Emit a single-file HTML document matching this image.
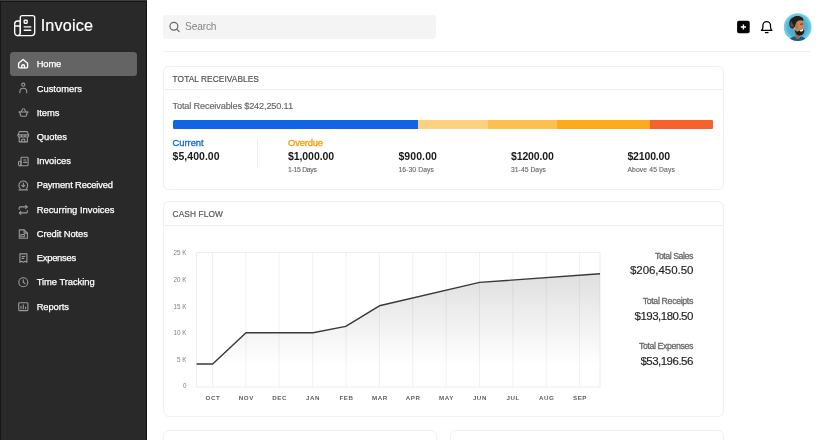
<!DOCTYPE html>
<html lang="en">
<head>
<meta charset="utf-8">
<title>Invoice</title>
<style>
*{box-sizing:border-box;margin:0;padding:0}
h1,h2,p,a{font-weight:400;text-decoration:none}
html,body{width:825px;height:440px;overflow:hidden;background:#fff}
body{font-family:"Liberation Sans",sans-serif;position:relative}
.t{position:absolute;line-height:1;white-space:nowrap}
.abs{position:absolute}
aside{position:absolute;left:0;top:0;width:147px;height:440px;background:#292929;box-shadow:inset 1px 0 0 rgba(0,0,0,.45),inset -1px 0 0 rgba(0,0,0,.55)}
.active{position:absolute;left:9.6px;top:52px;width:127.6px;height:24px;background:#646464;border-radius:3.5px}
nav svg,aside svg{position:absolute;overflow:visible}
.card{position:absolute;background:#fff;border:1px solid #f1f1f1;border-radius:6px;box-shadow:0 0 1px rgba(0,0,0,.03)}
.hr{position:absolute;background:#efefef;height:1px}
.search{position:absolute;left:163px;top:15px;width:272.7px;height:23.6px;background:#f4f4f4;border-radius:3.5px}
.seg{position:absolute;top:120px;height:8.6px}
</style>
</head>
<body>

<aside>
<div class="abs" style="left:0;top:0;width:147px;height:1px;background:#3c3c3c"></div><div class="abs" style="left:0;top:1px;width:147px;height:1px;background:#161616"></div>
<svg style="left:13px;top:14px" width="24" height="24" viewBox="13 14 24 24" fill="none" stroke="#fff" stroke-width="1.35" stroke-linecap="round" stroke-linejoin="round">
<path d="M20.3 32.5V17.6a2 2 0 0 1 2-2h10.4a2 2 0 0 1 2 2v15a3 3 0 0 1-3 3H17.5"/>
<path d="M20.3 21h-2.6a3 3 0 0 0-3 3v8.8a2.8 2.8 0 0 0 5.6 0z"/>
<path d="M14.9 26h5.2"/>
<rect x="24.2" y="20.2" width="3" height="3" rx=".6"/>
<path d="M24.2 26.9h6.6M24.2 30.2h6.6"/>
</svg>
<h1 class="t" style="left:40.70px;top:17px;font-size:16.2px;color:#fff;letter-spacing:0.153px;-webkit-text-stroke:0.2px #fff;">Invoice</h1>
<nav>
<div class="active"></div>
<svg style="left:14px;top:50px" width="18" height="28" viewBox="14 50 18 28" fill="none" stroke="#fff" stroke-width="1.35" stroke-linecap="round" stroke-linejoin="round"><path d="M18.600 63.300L23.100 59.500l4.500 3.800v3.400a1.200 1.200 0 0 1-1.200 1.200h-6.600a1.200 1.200 0 0 1-1.200-1.200z"/><path d="M21.700 67.800v-1.700a1.400 1.400 0 0 1 2.800 0v1.700"/></svg>
<a class="t" style="left:36.70px;top:59px;font-size:9.4px;color:#fff;letter-spacing:-0.119px;-webkit-text-stroke:0.25px #fff;">Home</a>
<svg style="left:14px;top:74px" width="18" height="28" viewBox="14 74 18 28" fill="none" stroke="#9a9a9a" stroke-width="1.1" stroke-linecap="round" stroke-linejoin="round"><circle cx="23.300" cy="84.700" r="1.600"/><path d="M19.900 92.800v-1.100a3.400 3.400 0 0 1 6.800 0v1.100"/></svg>
<a class="t" style="left:36.70px;top:84px;font-size:9.4px;color:#fff;-webkit-text-stroke:0.25px #fff;">Customers</a>
<svg style="left:14px;top:98px" width="18" height="28" viewBox="14 98 18 28" fill="none" stroke="#9a9a9a" stroke-width="1.1" stroke-linecap="round" stroke-linejoin="round"><path d="M18.800 112h9.400"/><path d="M19.700 112l.9 3.500a1 1 0 0 0 1 .7h3.800a1 1 0 0 0 1-.7l.9-3.500"/><path d="M21 111.800l1.900-3M26 111.800l-1.900-3"/></svg>
<a class="t" style="left:36.70px;top:108px;font-size:9.4px;color:#fff;letter-spacing:-0.016px;-webkit-text-stroke:0.25px #fff;">Items</a>
<svg style="left:14px;top:122px" width="18" height="28" viewBox="14 122 18 28" fill="none" stroke="#9a9a9a" stroke-width="1.1" stroke-linecap="round" stroke-linejoin="round"><path d="M19.400 131.600h7.800l1.400 3.300H18z"/><path d="M18 134.900v.5a1.700 1.700 0 0 0 3.500 0 1.700 1.700 0 0 0 3.500 0 1.700 1.700 0 0 0 3.600 0v-.5"/><path d="M19.200 137.400v4.500h8.200v-4.500"/><path d="M21.800 141.900v-2.700h3v2.700"/></svg>
<a class="t" style="left:36.70px;top:132px;font-size:9.4px;color:#fff;letter-spacing:0.016px;-webkit-text-stroke:0.25px #fff;">Quotes</a>
<svg style="left:14px;top:146px" width="18" height="28" viewBox="14 146 18 28" fill="none" stroke="#9a9a9a" stroke-width="1.1" stroke-linecap="round" stroke-linejoin="round"><path d="M21 164.700v-6.600a.9.9 0 0 1 .9-.9h5.300a.9.9 0 0 1 .9.900v6.600a1.100 1.100 0 0 1-1.100 1.100h-7"/><path d="M21 161.300h-1.300a1.200 1.200 0 0 0-1.200 1.200v2.100a1.250 1.250 0 0 0 2.500 0z"/><path d="M23.700 160h2.300M23.700 162.400h3"/></svg>
<a class="t" style="left:36.70px;top:156px;font-size:9.4px;color:#fff;letter-spacing:-0.023px;-webkit-text-stroke:0.25px #fff;">Invoices</a>
<svg style="left:14px;top:171px" width="18" height="28" viewBox="14 171 18 28" fill="none" stroke="#9a9a9a" stroke-width="1.1" stroke-linecap="round" stroke-linejoin="round"><path d="M20.300 188.600a4.400 4.400 0 1 1 6 0"/><path d="M23.300 183v3.600M21.700 185.300l1.600 1.500 1.600-1.500"/><path d="M19 189.900h8.600"/></svg>
<a class="t" style="left:36.70px;top:180px;font-size:9.4px;color:#fff;letter-spacing:-0.156px;-webkit-text-stroke:0.25px #fff;">Payment Received</a>
<svg style="left:14px;top:195px" width="18" height="28" viewBox="14 195 18 28" fill="none" stroke="#9a9a9a" stroke-width="1.1" stroke-linecap="round" stroke-linejoin="round"><path d="M19.200 209.200v-1.300a1 1 0 0 1 1-1h6.800"/><path d="M25.600 205.500l1.600 1.400-1.600 1.400"/><path d="M27.300 210.600v1.300a1 1 0 0 1-1 1h-6.800"/><path d="M20.900 211.500l-1.600 1.400 1.600 1.400"/></svg>
<a class="t" style="left:36.70px;top:205px;font-size:9.4px;color:#fff;-webkit-text-stroke:0.25px #fff;">Recurring Invoices</a>
<svg style="left:14px;top:219px" width="18" height="28" viewBox="14 219 18 28" fill="none" stroke="#9a9a9a" stroke-width="1.1" stroke-linecap="round" stroke-linejoin="round"><path d="M19.300 229.900h4.800l3.300 3.200v5.200h-8.100z"/><path d="M24.100 229.900v3.200h3.300"/><rect x="20.900" y="234.500" width="3.400" height="2.200"/></svg>
<a class="t" style="left:36.70px;top:229px;font-size:9.4px;color:#fff;letter-spacing:-0.078px;-webkit-text-stroke:0.25px #fff;">Credit Notes</a>
<svg style="left:14px;top:243px" width="18" height="28" viewBox="14 243 18 28" fill="none" stroke="#9a9a9a" stroke-width="1.1" stroke-linecap="round" stroke-linejoin="round"><path d="M19.900 253.900h7v8.400l-1.750-1-1.750 1-1.750-1-1.750 1z"/><path d="M22 256.500h2.800M22 258.400h1.800"/></svg>
<a class="t" style="left:36.70px;top:253px;font-size:9.4px;color:#fff;letter-spacing:-0.235px;-webkit-text-stroke:0.25px #fff;">Expenses</a>
<svg style="left:14px;top:268px" width="18" height="28" viewBox="14 268 18 28" fill="none" stroke="#9a9a9a" stroke-width="1.1" stroke-linecap="round" stroke-linejoin="round"><circle cx="23.300" cy="282.300" r="4.500"/><path d="M23.300 279.900v2.600l1.800.9"/></svg>
<a class="t" style="left:36.70px;top:277px;font-size:9.4px;color:#fff;letter-spacing:-0.044px;-webkit-text-stroke:0.25px #fff;">Time Tracking</a>
<svg style="left:14px;top:292px" width="18" height="28" viewBox="14 292 18 28" fill="none" stroke="#9a9a9a" stroke-width="1.1" stroke-linecap="round" stroke-linejoin="round"><rect x="18.700" y="302.700" width="9.200" height="7.900" rx=".9"/><path d="M21 308.700v-2.400M23.300 308.700v-3.900M25.600 308.700v-1.700"/></svg>
<a class="t" style="left:36.70px;top:302px;font-size:9.4px;color:#fff;letter-spacing:-0.102px;-webkit-text-stroke:0.25px #fff;">Reports</a>
</nav>
</aside>
<header>
<div class="search"></div>
<svg class="abs" style="left:168px;top:20px" width="14" height="14" viewBox="168 20 14 14" fill="none" stroke="#666" stroke-width="1.2" stroke-linecap="round"><circle cx="173.9" cy="26.2" r="3.9"/><path d="M176.8 29.2l2.3 2.4"/></svg>
<div class="t" style="left:185.00px;top:22px;font-size:10.2px;color:#858585;letter-spacing:-0.153px;">Search</div>
<svg class="abs" style="left:736px;top:20px" width="15" height="15" viewBox="736 20 15 15"><rect x="737.1" y="20.8" width="12.6" height="12.4" rx="1.8" fill="#000"/><path d="M743.4 24.4v5.2M740.8 27h5.2" stroke="#fff" stroke-width="1.4" fill="none"/></svg>
<svg class="abs" style="left:759px;top:20px" width="16" height="15" viewBox="759 20 16 15" fill="none" stroke="#000" stroke-width="1.3" stroke-linecap="round" stroke-linejoin="round"><path d="M761.5 30.3h10.4c-1-.8-1.4-1.800-1.400-3.300v-1.6a3.800 3.800 0 0 0-7.600 0V27c0 1.500-.4 2.500-1.400 3.300z"/><path d="M765.4 32.600h2.600"/></svg>
<svg class="abs" style="left:783px;top:12px" width="30" height="30" viewBox="783 12 30 30">
<defs><clipPath id="av"><circle cx="797.7" cy="27.2" r="13.9"/></clipPath>
<radialGradient id="avg" cx=".5" cy=".5" r=".5"><stop offset="0" stop-color="#3f9fc8"/><stop offset=".7" stop-color="#4db3d6"/><stop offset="1" stop-color="#7fd2ea"/></radialGradient></defs>
<circle cx="797.7" cy="27.2" r="13.9" fill="url(#avg)"/>
<g clip-path="url(#av)">
<path d="M788 43c.3-3.500 3-6 6.500-6.800l3 2.600 3.500-2.300c3 .5 5.500 2.500 6.500 5.500v1z" fill="#1e5b84"/>
<path d="M795.300 32.500l4.700 2-.5 3.600-2 .8-2.500-2.200z" fill="#a86c44"/>
<path d="M794.800 27.500c-.3-4 1.700-7 4.700-7.300 2.500-.2 4.200 1.300 4.500 3.800l.6 2.300-.6.800.3 3c-.3 1.500-1.500 2.500-3 2.600-3.500.2-6.200-1.700-6.500-5.200z" fill="#c8875a"/>
<ellipse cx="793.900" cy="28.400" rx="1.100" ry="1.700" fill="#dba474"/>
<path d="M789.800 26.500c-1.300-4 .2-7.800 3.200-9 2.500-1.800 6.500-1.800 8.500-.6 1.800.7 2.300 2.600 1.700 4.100-2-1.100-4.500-.8-6 .4-1.400 1.300-1.900 3.300-2.100 5.300-1.200.1-1.700 1.100-1.600 2.100-2-.4-3.200-1.100-3.700-2.300z" fill="#231d1b"/>
<path d="M790.400 25.800c-.4-2 .1-3.800 1.100-4.800.3 1.600 1.100 3.200 2.400 4.600-.8.500-1.200 1.200-1.300 2-1-.3-1.800-.9-2.200-1.800z" fill="#55504d"/>
<path d="M794.700 29.300c.8 1.500 1.500 2.300 3 2.300 1.700-1.500 3.700-2.700 6-3.200l.6 2.600c-.2 2.800-2 4.600-4.600 4.600-2.800 0-4.600-2.300-5-6.300z" fill="#241a15"/>
<path d="M799.500 30.200c1.500-.3 2.900-.9 4-1.700.1 1.800-.8 3-2.200 3.100-.9 0-1.600-.5-1.800-1.400z" fill="#fff"/>
<path d="M800.200 24.500c.9-.6 2-.7 3-.3" stroke="#3a2418" stroke-width=".9" fill="none"/>
<path d="M797 23c.3 2 .2 4-.3 6" stroke="#a96f47" stroke-width="1.200" fill="none"/>
</g></svg>
<div class="hr" style="left:163px;top:51px;width:647px"></div>
</header>
<main>
<section>
<div class="card" style="left:162.600px;top:65.600px;width:561px;height:124.200px"></div>
<div class="hr" style="left:163.600px;top:89px;width:559px"></div>
<h2 class="t" style="left:172.60px;top:75px;font-size:8.3px;color:#555;letter-spacing:0.081px;-webkit-text-stroke:0.2px #555;">TOTAL RECEIVABLES</h2>
<p class="t" style="left:172.60px;top:102px;font-size:9.2px;color:#666;letter-spacing:-0.163px;-webkit-text-stroke:0.15px #666;">Total Receivables $242,250.11</p>
<div class="seg" style="left:172.6px;width:245.0px;background:#1264e3;border-radius:1.500px 0 0 1.500px;"></div>
<div class="seg" style="left:417.6px;width:70.4px;background:#fdd17f;"></div>
<div class="seg" style="left:488px;width:69.0px;background:#fdc050;"></div>
<div class="seg" style="left:557px;width:93.4px;background:#fdab1c;"></div>
<div class="seg" style="left:650.4px;width:62.6px;background:#f6622d;border-radius:0 1px 1px 0;"></div>
<div class="t" style="left:172.60px;top:138px;font-size:9.4px;color:#1468e0;letter-spacing:-0.049px;-webkit-text-stroke:0.32px #1468e0;">Current</div>
<div class="t" style="left:172.60px;top:151px;font-size:10.5px;color:#1a1a1a;font-weight:700;letter-spacing:0.032px;">$5,400.00</div>
<div class="abs" style="left:257.200px;top:139.600px;width:1px;height:28.400px;background:#ececec"></div>
<div class="t" style="left:288.00px;top:138px;font-size:9.4px;color:#f39c0b;letter-spacing:-0.150px;-webkit-text-stroke:0.32px #f39c0b;">Overdue</div>
<div class="t" style="left:288.00px;top:151px;font-size:10.5px;color:#1a1a1a;font-weight:700;letter-spacing:-0.079px;">$1,000.00</div>
<div class="t" style="left:288.00px;top:167px;font-size:6.8px;color:#666;letter-spacing:-0.266px;-webkit-text-stroke:0.12px #666;">1-15 Days</div>
<div class="t" style="left:398.40px;top:151px;font-size:10.5px;color:#1a1a1a;font-weight:700;letter-spacing:0.092px;">$900.00</div>
<div class="t" style="left:398.40px;top:167px;font-size:6.8px;color:#666;letter-spacing:0.083px;-webkit-text-stroke:0.12px #666;">16-30 Days</div>
<div class="t" style="left:511.00px;top:151px;font-size:10.5px;color:#1a1a1a;font-weight:700;letter-spacing:-0.149px;">$1200.00</div>
<div class="t" style="left:511.00px;top:167px;font-size:6.8px;color:#666;letter-spacing:0.023px;-webkit-text-stroke:0.12px #666;">31-45 Days</div>
<div class="t" style="left:627.40px;top:151px;font-size:10.5px;color:#1a1a1a;font-weight:700;letter-spacing:-0.149px;">$2100.00</div>
<div class="t" style="left:627.40px;top:167px;font-size:6.8px;color:#666;letter-spacing:0.114px;-webkit-text-stroke:0.12px #666;">Above 45 Days</div>
</section>
<section>
<div class="card" style="left:162.600px;top:201px;width:561px;height:215.800px"></div>
<div class="hr" style="left:163.600px;top:224.600px;width:559px"></div>
<h2 class="t" style="left:172.60px;top:210px;font-size:8.3px;color:#555;letter-spacing:0.118px;-webkit-text-stroke:0.18px #555;">CASH FLOW</h2>
<svg class="abs" style="left:0;top:0" width="825" height="440" viewBox="0 0 825 440" font-family="Liberation Sans, sans-serif">
<defs><linearGradient id="g" x1="0" y1="0" x2="0" y2="1"><stop offset="0" stop-color="#000" stop-opacity=".125"/><stop offset=".8" stop-color="#000" stop-opacity="0"/></linearGradient></defs>
<polygon points="196.6,363.95 212.7,363.95 246,332.8 313,332.8 345.7,326.4 379.4,305.8 479.6,282.4 600,273.8 600.0,387.0 196.4,387.0" fill="url(#g)"/>
<path d="M212.5 252.6V387.0 M245.9 252.6V387.0 M279.2 252.6V387.0 M312.6 252.6V387.0 M346.0 252.6V387.0 M379.4 252.6V387.0 M412.7 252.6V387.0 M446.1 252.6V387.0 M479.5 252.6V387.0 M512.8 252.6V387.0 M546.2 252.6V387.0 M579.6 252.6V387.0" stroke="#000" stroke-opacity=".055" stroke-width="1" fill="none"/>
<rect x="196.4" y="252.6" width="403.6" height="134.4" fill="none" stroke="#000" stroke-opacity=".07" stroke-width="1"/>
<polyline points="196.6,363.95 212.7,363.95 246,332.8 313,332.8 345.7,326.4 379.4,305.8 479.6,282.4 600,273.8" fill="none" stroke="#383838" stroke-width="1.45" stroke-linejoin="round"/>
<text x="186.400" y="255.3" font-size="6.300" fill="#808080" text-anchor="end">25 K</text>
<text x="186.400" y="281.9" font-size="6.300" fill="#808080" text-anchor="end">20 K</text>
<text x="186.400" y="308.5" font-size="6.300" fill="#808080" text-anchor="end">15 K</text>
<text x="186.400" y="335.1" font-size="6.300" fill="#808080" text-anchor="end">10 K</text>
<text x="186.400" y="361.7" font-size="6.300" fill="#808080" text-anchor="end">5 K</text>
<text x="186.400" y="388.3" font-size="6.300" fill="#808080" text-anchor="end">0</text>
<text x="212.9" y="400.100" font-size="6.200" font-weight="700" fill="#606060" text-anchor="middle" letter-spacing=".55">OCT</text>
<text x="246.3" y="400.100" font-size="6.200" font-weight="700" fill="#606060" text-anchor="middle" letter-spacing=".55">NOV</text>
<text x="279.6" y="400.100" font-size="6.200" font-weight="700" fill="#606060" text-anchor="middle" letter-spacing=".55">DEC</text>
<text x="313.0" y="400.100" font-size="6.200" font-weight="700" fill="#606060" text-anchor="middle" letter-spacing=".55">JAN</text>
<text x="346.4" y="400.100" font-size="6.200" font-weight="700" fill="#606060" text-anchor="middle" letter-spacing=".55">FEB</text>
<text x="379.8" y="400.100" font-size="6.200" font-weight="700" fill="#606060" text-anchor="middle" letter-spacing=".55">MAR</text>
<text x="413.1" y="400.100" font-size="6.200" font-weight="700" fill="#606060" text-anchor="middle" letter-spacing=".55">APR</text>
<text x="446.5" y="400.100" font-size="6.200" font-weight="700" fill="#606060" text-anchor="middle" letter-spacing=".55">MAY</text>
<text x="479.9" y="400.100" font-size="6.200" font-weight="700" fill="#606060" text-anchor="middle" letter-spacing=".55">JUN</text>
<text x="513.2" y="400.100" font-size="6.200" font-weight="700" fill="#606060" text-anchor="middle" letter-spacing=".55">JUL</text>
<text x="546.6" y="400.100" font-size="6.200" font-weight="700" fill="#606060" text-anchor="middle" letter-spacing=".55">AUG</text>
<text x="580.0" y="400.100" font-size="6.200" font-weight="700" fill="#606060" text-anchor="middle" letter-spacing=".55">SEP</text>
</svg>
<div class="t" style="left:654.94px;top:252px;font-size:8.8px;color:#666;letter-spacing:-0.459px;-webkit-text-stroke:0.28px #666;">Total Sales</div>
<div class="t" style="left:629.95px;top:265px;font-size:11.5px;color:#222;letter-spacing:-0.050px;-webkit-text-stroke:0.15px #222;">$206,450.50</div>
<div class="t" style="left:642.65px;top:297px;font-size:8.8px;color:#666;letter-spacing:-0.348px;-webkit-text-stroke:0.28px #666;">Total Receipts</div>
<div class="t" style="left:634.50px;top:311px;font-size:11.5px;color:#222;letter-spacing:-0.505px;-webkit-text-stroke:0.15px #222;">$193,180.50</div>
<div class="t" style="left:638.99px;top:342px;font-size:8.8px;color:#666;letter-spacing:-0.406px;-webkit-text-stroke:0.28px #666;">Total Expenses</div>
<div class="t" style="left:640.39px;top:356px;font-size:11.5px;color:#222;letter-spacing:-0.506px;-webkit-text-stroke:0.15px #222;">$53,196.56</div>
</section>
<section><div class="card" style="left:162.600px;top:430px;width:274px;height:40px"></div></section>
<section><div class="card" style="left:449.600px;top:430px;width:274px;height:40px"></div></section>
</main>
</body></html>
